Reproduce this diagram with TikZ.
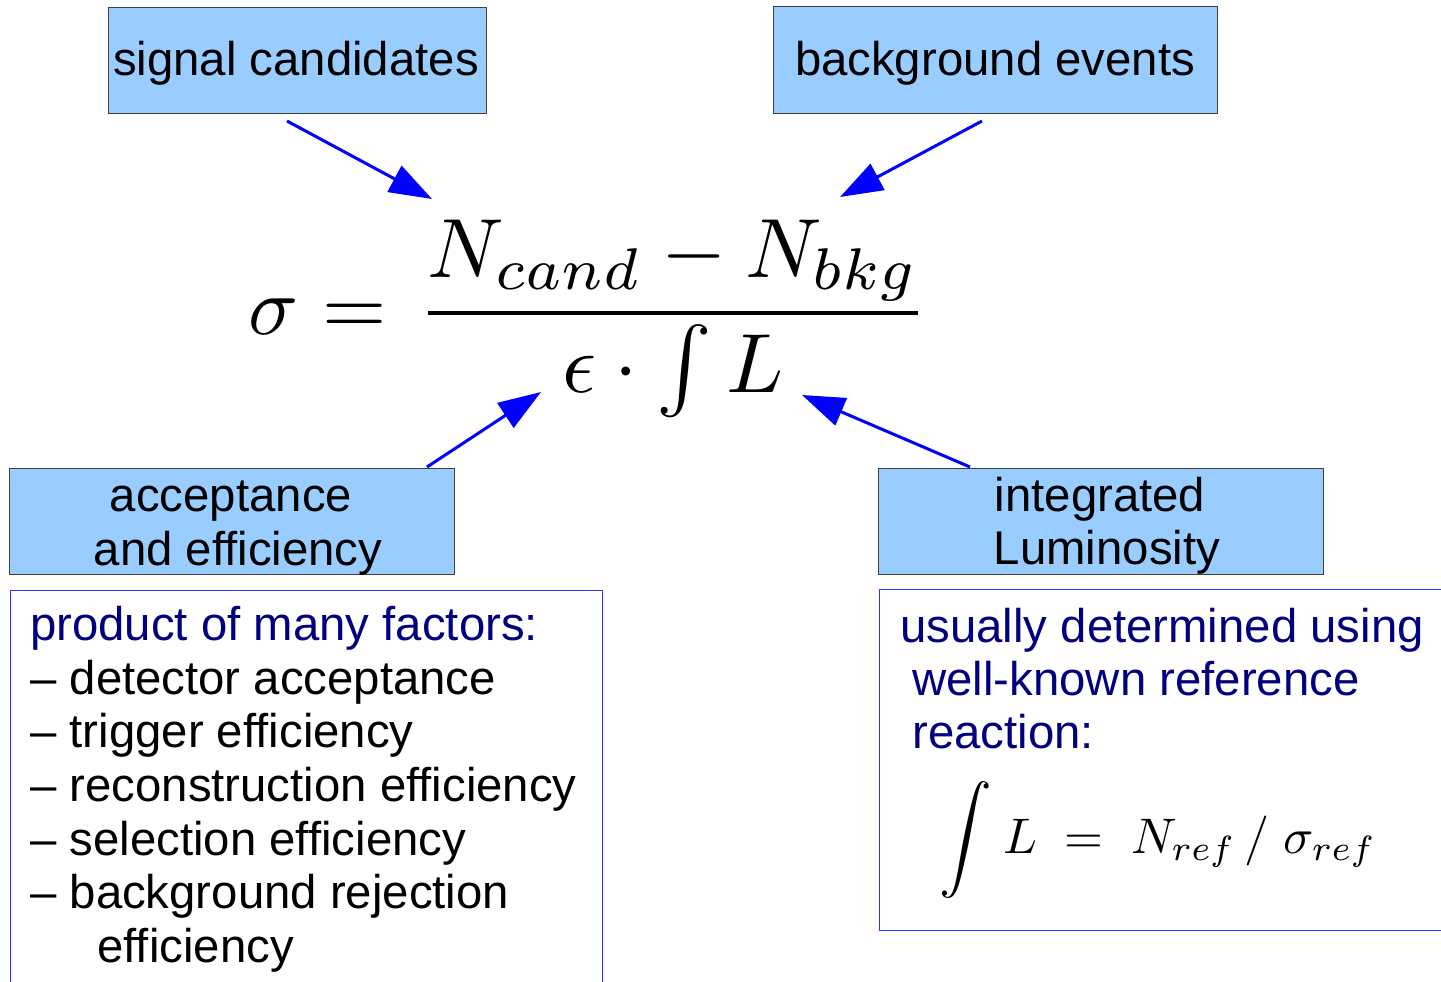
\documentclass[tikz,border=0pt]{standalone}
\usepackage[no-math]{fontspec}
\setmainfont{Liberation Sans}
\usetikzlibrary{arrows.meta}
\definecolor{boxblue}{HTML}{99CCFF}
\definecolor{navytext}{HTML}{000080}
\definecolor{frameblue}{HTML}{3333FF}
\begin{document}
\begin{tikzpicture}[x=0.75pt,y=-0.75pt,
  bluebox/.style={draw=black!75, line width=0.75pt, fill=boxblue, inner sep=0pt},
  framebox/.style={draw=frameblue, line width=0.75pt, inner sep=0pt},
  txt/.style={inner sep=0pt, font=\fontsize{35.5}{40}\selectfont, anchor=base},
  ltxt/.style={inner sep=0pt, font=\fontsize{35.5}{40}\selectfont, anchor=base west},
  arr/.style={draw=blue, line width=2.25pt, -{Triangle[length=32pt,width=22pt]}},
  mathnode/.style={inner sep=0pt}]
\useasboundingbox (0,0) rectangle (1441,981);

% top boxes
\node[bluebox, minimum width=283.5pt, minimum height=78.75pt] (sig) at (297,60.5) {};
\node[txt] (sigt) at (296,75) {signal candidates};
\node[bluebox, minimum width=333pt, minimum height=79.5pt] (bkg) at (995,60) {};
\node[txt] (bkgt) at (995,75) {background events};

% middle boxes
\node[bluebox, minimum width=333.75pt, minimum height=79.5pt] (acc) at (231.5,521) {};
\node[txt] (acc1) at (231,511) {acceptance};
\node[txt] (acc2) at (238,565) {and efficiency};
\node[bluebox, minimum width=333.75pt, minimum height=79.5pt] (lum) at (1100.5,521) {};
\node[txt] (lum1) at (1100,511) {integrated};
\node[txt] (lum2) at (1107,564) {Luminosity};

% lower frames
\node[framebox, minimum width=444pt, minimum height=300pt] (fl) at (306,790) {};
\node[framebox, minimum width=428.25pt, minimum height=255.75pt] (fr) at (1164.5,759.5) {};

% left list
\node[ltxt, text=navytext] (p0) at (30,640) {product of many factors:};
\node[ltxt] (p1) at (30,694) {– detector acceptance};
\node[ltxt] (p2) at (30,747) {– trigger efficiency};
\node[ltxt] (p3) at (30,801) {– reconstruction efficiency};
\node[ltxt] (p4) at (30,855) {– selection efficiency};
\node[ltxt] (p5) at (30,908) {– background rejection};
\node[ltxt] (p6) at (97,962) {efficiency};

% right text
\node[ltxt, text=navytext] (r0) at (900,642) {usually determined using};
\node[ltxt, text=navytext] (r1) at (912,695) {well-known reference};
\node[ltxt, text=navytext] (r2) at (912,748) {reaction:};

% main formula
\node[mathnode, scale=6.3, anchor=base] (frac) at (673,334)
  {$\displaystyle\frac{N_{cand}-N_{bkg}}{\epsilon\cdot\int L}$};
\node[mathnode, scale=6.2, anchor=base east] (sigeq) at (388,334) {$\displaystyle\sigma =$};

% reference formula
\node[mathnode, scale=3.95] (int2) at (966,840) {$\displaystyle\int$};
\node[mathnode, scale=3.75, anchor=base west] (lref) at (1002,853)
  {$L\;=\;N_{ref}\,/\;\sigma_{ref}$};

% arrows
\coordinate (a1s) at (287,121); \coordinate (a1e) at (432,199);
\coordinate (a2s) at (982,121); \coordinate (a2e) at (840,197);
\coordinate (a3s) at (427,467); \coordinate (a3e) at (541,392);
\coordinate (a4s) at (970,467); \coordinate (a4e) at (802,395);
\draw[arr] (a1s) -- (a1e);
\draw[arr] (a2s) -- (a2e);
\draw[arr] (a3s) -- (a3e);
\draw[arr] (a4s) -- (a4e);
\end{tikzpicture}
\end{document}
